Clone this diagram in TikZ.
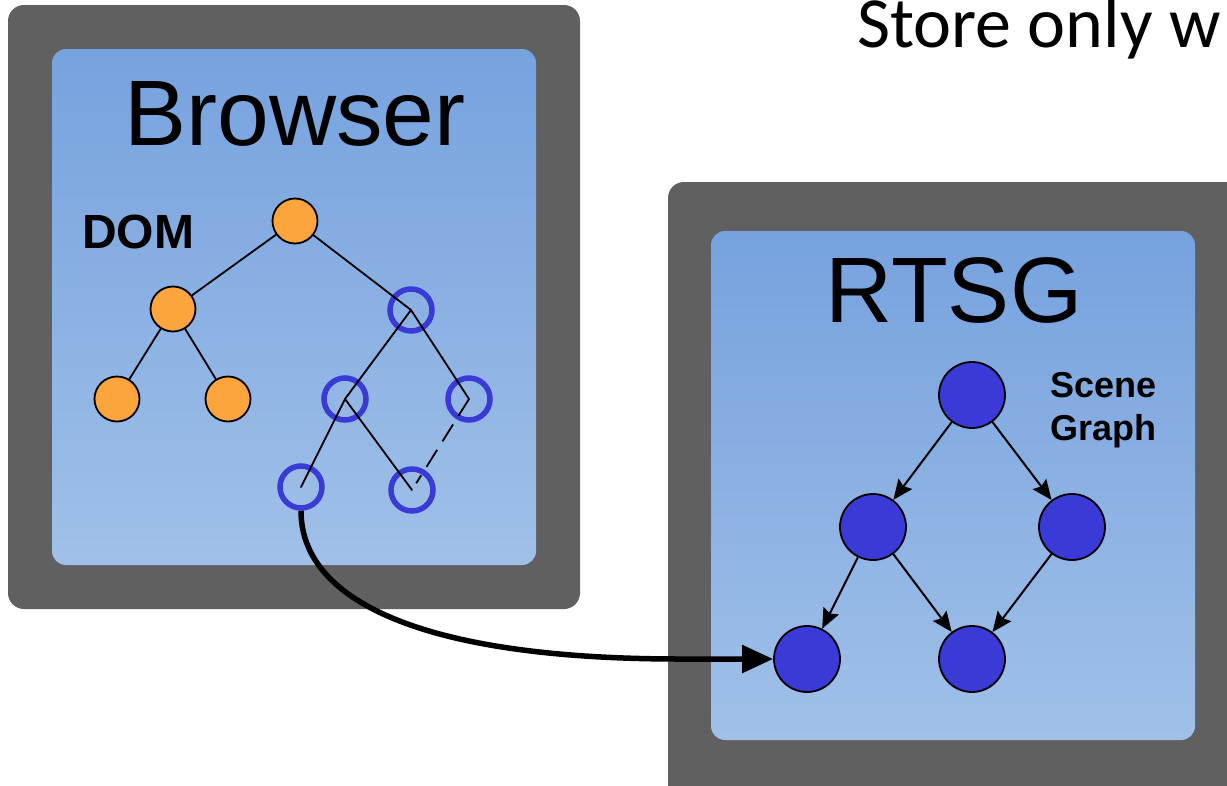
\documentclass[tikz,border=0pt]{standalone}
\usepackage{fontspec}
\setmainfont{Liberation Sans}
\newfontfamily\notefont{Carlito}
\usetikzlibrary{arrows.meta}

\definecolor{frame}{HTML}{606060}
\definecolor{paneltop}{HTML}{76A2DE}
\definecolor{panelbot}{HTML}{A0C0E8}
\definecolor{domnode}{HTML}{FBA53C}
\definecolor{sgblue}{HTML}{3A3AD6}

\tikzset{
  outerframe/.style={fill=frame, rounded corners=16pt},
  panel/.style={top color=paneltop, bottom color=panelbot, rounded corners=14pt},
  domdot/.style={circle, draw=black, line width=1.8pt, fill=domnode,
                 minimum size=45pt, inner sep=0pt},
  ring/.style={circle, draw=sgblue, line width=5.5pt, minimum size=42pt, inner sep=0pt},
  sgdot/.style={circle, draw=black, line width=1.8pt, fill=sgblue,
                minimum size=66pt, inner sep=0pt},
  treeline/.style={line width=1.8pt, line cap=round},
  sgarrow/.style={line width=2pt, -{Stealth[length=20pt,width=17pt,inset=3pt]}},
  bigarrow/.style={line width=5.5pt, -{Triangle[length=31pt,width=27pt]}},
  heading/.style={inner sep=0pt, anchor=base, font=\fontsize{93}{100}\selectfont},
  tag/.style={inner sep=0pt, anchor=base west, font=\bfseries\fontsize{36}{43}\selectfont},
}

\begin{document}
\begin{tikzpicture}[x=1pt, y=-1pt]
\clip (0,0) rectangle (1227,785);

% browser window
\fill[outerframe] (8,5) rectangle (580,609);
\shade[panel] (52,49) rectangle (536,565);

% scene graph window (runs off the page)
\fill[outerframe] (668,182) rectangle (1270,840);
\shade[panel] (711,231) rectangle (1195,740);

% titles
\node[heading] (browser) at (295,145) {Browser};
\node[heading] (rtsg) at (954,322) {RTSG};
\node[inner sep=0pt, anchor=base west, font=\bfseries\fontsize{48}{50}\selectfont] (dom) at (82,248) {DOM};
\node[tag] (scene) at (1050,397) {Scene};
\node[tag] (graph) at (1050,440) {Graph};
\node[inner sep=0pt, anchor=base west, font=\notefont\fontsize{72}{80}\selectfont] (note) at (857,47) {Store only w};

% DOM tree: rendered part
\node[domdot] (o1) at (295,221) {};
\node[domdot] (o2) at (173,309) {};
\node[domdot] (o3) at (117,399) {};
\node[domdot] (o4) at (228,399) {};

% DOM tree: part not yet rendered
\node[ring] (r1) at (411,310) {};
\node[ring] (r2) at (345,399) {};
\node[ring] (r3) at (469,399) {};
\node[ring] (r4) at (301,487) {};
\node[ring] (r5) at (412,490) {};

\draw[treeline] (o1) -- (o2);
\draw[treeline] (o2) -- (o3);
\draw[treeline] (o2) -- (o4);
\draw[treeline] (o1) -- (r1.center);
\draw[treeline] (r1.center) -- (r2.center);
\draw[treeline] (r1.center) -- (r3.center);
\draw[treeline] (r2.center) -- (r4.center);
\draw[treeline] (r2.center) -- (r5.center);
\draw[treeline, line cap=butt, dash pattern=on 20pt off 10pt, shorten >=8pt] (r3.center) -- (r5.center);

% scene graph
\node[sgdot] (s1) at (972,395) {};
\node[sgdot] (s2) at (873,527) {};
\node[sgdot] (s3) at (1072,527) {};
\node[sgdot] (s4) at (807,659) {};
\node[sgdot] (s5) at (972,659) {};

\draw[sgarrow] (s1) -- (s2);
\draw[sgarrow] (s1) -- (s3);
\draw[sgarrow] (s2) -- (s4);
\draw[sgarrow] (s2) -- (s5);
\draw[sgarrow] (s3) -- (s5);

% mapping from a DOM element to a scene graph node
\coordinate (bend) at (680,659);
\draw[bigarrow] (r4.south) .. controls (301,600) and (420,659) .. (bend) -- (s4.west);
\end{tikzpicture}
\end{document}
